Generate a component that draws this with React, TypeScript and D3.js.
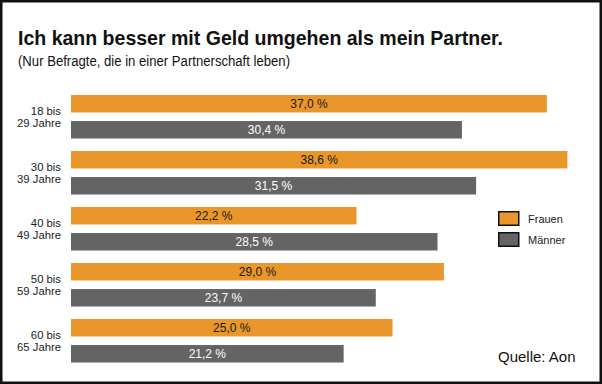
import * as d3 from "d3";

const ageGroups = ["18 bis|29 Jahre", "30 bis|39 Jahre", "40 bis|49 Jahre", "50 bis|59 Jahre", "60 bis|65 Jahre"];
const seriesNames = ["Frauen", "Männer"];
const frauen = [37.0, 38.6, 22.2, 29.0, 25.0];
const maenner = [30.4, 31.5, 28.5, 23.7, 21.2];

const colors: Record<string, string> = { Frauen: "#e9962b", Männer: "#646464" };
const labelColors: Record<string, string> = { Frauen: "#1a1a1a", Männer: "#ffffff" };

const fmt = (v: number) => v.toFixed(1).replace(".", ",") + " %";

export default function App() {
  const width = 602;
  const height = 384;
  const font = "'Liberation Sans', Arial, Helvetica, sans-serif";

  const x = d3.scaleLinear().domain([0, 40]).range([71, 585.4]);
  const y0 = d3.scaleBand().domain(ageGroups).range([95, 95 + 56 * ageGroups.length]).padding(0);
  const y1 = d3.scaleBand().domain(seriesNames).range([0, 43.5]).paddingInner(0.33).paddingOuter(0);

  const rows = ageGroups.map((g, i) => ({
    group: g,
    values: [
      { key: "Frauen", value: frauen[i] },
      { key: "Männer", value: maenner[i] },
    ],
  }));

  return (
    <svg
      width={width}
      height={height}
      style={{ position: "absolute", left: 0, top: 0, background: "#fff" }}
      fontFamily={font}
    >
      <rect x={1.25} y={1.25} width={width - 2.5} height={height - 2.5} fill="#fff" stroke="#111" strokeWidth={2.5} />

      <text x={18} y={44.5} fontSize={19.8} fontWeight="bold" fill="#111" textLength={485} lengthAdjust="spacingAndGlyphs">
        Ich kann besser mit Geld umgehen als mein Partner.
      </text>
      <text x={18} y={65.5} fontSize={14} fill="#111" textLength={272} lengthAdjust="spacingAndGlyphs">
        (Nur Befragte, die in einer Partnerschaft leben)
      </text>

      {rows.map((row) => {
        const gy = y0(row.group) || 0;
        const [l1, l2] = row.group.split("|");
        return (
          <g key={row.group} transform={`translate(0,${gy})`}>
            <text x={61} y={19.5} fontSize={11.3} textAnchor="end" fill="#222">
              {l1}
            </text>
            <text x={61} y={32} fontSize={11.3} textAnchor="end" fill="#222">
              {l2}
            </text>
            {row.values.map((d) => {
              const by = y1(d.key) || 0;
              const bw = y1.bandwidth();
              return (
                <g key={d.key}>
                  <rect x={x(0)} y={by} width={x(d.value) - x(0)} height={bw} fill={colors[d.key]} />
                  <text
                    x={(x(0) + x(d.value)) / 2}
                    y={by + bw / 2 + 4.3}
                    fontSize={12}
                    textAnchor="middle"
                    fill={labelColors[d.key]}
                  >
                    {fmt(d.value)}
                  </text>
                </g>
              );
            })}
          </g>
        );
      })}

      <g transform="translate(498,211)">
        {seriesNames.map((s, i) => (
          <g key={s} transform={`translate(0,${i * 21})`}>
            <rect x={0.75} y={0.75} width={20} height={13.5} fill={colors[s]} stroke="#111" strokeWidth={1.5} />
            <text x={30} y={11.5} fontSize={11} fill="#222">
              {s}
            </text>
          </g>
        ))}
      </g>

      <text x={498} y={362} fontSize={15} fill="#111">
        Quelle: Aon
      </text>
    </svg>
  );
}
